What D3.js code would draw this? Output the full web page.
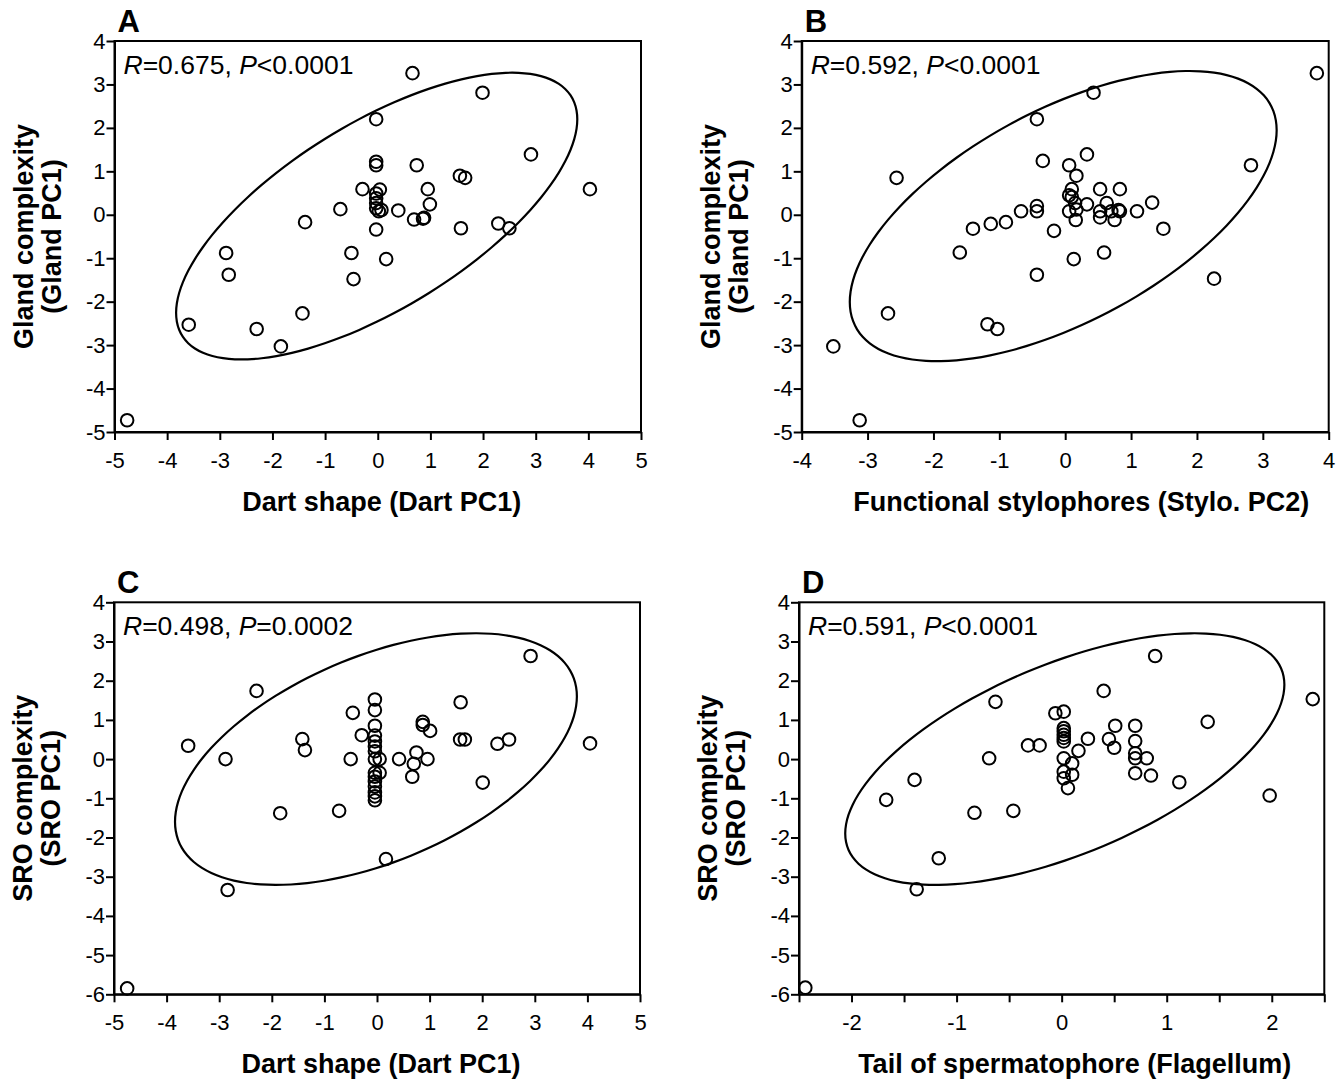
<!DOCTYPE html>
<html>
<head>
<meta charset="utf-8">
<script src="https://cdn.jsdelivr.net/npm/d3@7/dist/d3.min.js"></script>
<style>
body{margin:0;background:#fff;}
svg text{font-family:"Liberation Sans", Arial, sans-serif;fill:#000;}
.axis .domain, .axis .tick line{stroke:#000;stroke-width:2;}
.axis text{font-size:22px;}
.frame{fill:none;stroke:#000;stroke-width:2;}
.ell{fill:none;stroke:#000;stroke-width:2.2;}
.pt{fill:none;stroke:#000;stroke-width:2;}
</style>
</head>
<body>
<div id="fig"></div>
<script>

//A: dart PC1 vs gland PC1
var aX = [-4.76,-3.59,-2.88,-2.83,-2.30,-1.84,-1.43,-1.38,-0.71,-0.50,-0.46,-0.29,-0.03,-0.03,-0.03,0.04,-0.03,-0.03,-0.03,-0.03,0.02,0.07,-0.03,0.39,0.16,0.66,1.99,0.74,2.91,1.56,1.66,4.03,0.95,0.99,0.69,0.86,0.88,1.58,2.29,2.50];
var aY = [-4.73,-2.53,-0.88,-1.38,-2.63,-3.03,-2.27,-0.17,0.13,-0.88,-1.48,0.59,2.20,1.22,1.14,0.58,0.49,0.38,0.27,0.15,0.08,0.11,-0.34,0.10,-1.02,3.26,2.81,1.14,1.39,0.90,0.85,0.59,0.59,0.24,-0.11,-0.09,-0.07,-0.31,-0.20,-0.31];

//B: stylo PC2 vs gland PC1
var bX = [-3.52,-3.12,-2.56,-2.69,-1.60,-1.40,-1.13,-0.90,-1.18,-1.03,-0.67,-0.43,-0.34,-0.43,-0.43,-0.17,-0.43,3.82,0.43,0.33,0.06,0.17,2.82,0.10,0.06,0.10,0.15,0.06,0.17,0.33,0.53,0.83,0.63,0.53,0.53,0.70,0.81,0.83,0.75,0.16,1.09,1.32,1.49,0.13,0.59,2.26];
var bY = [-3.03,-4.73,0.85,-2.27,-0.87,-0.32,-0.21,-0.17,-2.52,-2.63,0.08,2.20,1.24,0.20,0.08,-0.37,-1.38,3.26,2.81,1.39,1.14,0.90,1.14,0.59,0.45,0.41,0.27,0.08,0.12,0.24,0.59,0.59,0.27,0.08,-0.06,0.08,0.11,0.08,-0.12,-0.12,0.08,0.28,-0.32,-1.02,-0.87,-1.47];

//C: dart PC1 vs SRO PC1
var cX = [-4.75,-3.59,-2.88,-2.29,-2.84,-1.84,-1.42,-1.37,-0.72,-0.46,-0.50,-0.29,-0.04,-0.04,-0.04,-0.04,-0.04,-0.04,-0.04,-0.04,-0.04,-0.04,-0.04,-0.04,-0.04,-0.04,-0.04,0.05,0.05,2.92,1.59,4.05,0.87,0.87,1.01,1.58,1.67,2.29,2.51,0.42,0.75,0.70,0.96,0.67,2.01,0.17];
var cY = [-5.85,0.34,0.00,1.74,-3.34,-1.38,0.51,0.23,-1.32,1.18,0.00,0.61,1.52,1.25,0.85,0.60,0.45,0.32,0.20,0.00,-0.35,-0.45,-0.57,-0.70,-0.85,-0.95,-1.05,0.00,-0.35,2.63,1.45,0.40,0.95,0.87,0.72,0.50,0.50,0.39,0.50,0.00,0.17,-0.12,0.00,-0.45,-0.60,-2.55];

//D: flagellum vs SRO PC1
var dX = [-2.44,-1.67,-1.40,-1.17,-1.38,-0.83,-0.46,-0.69,-0.63,-0.32,-0.21,-0.06,0.02,0.02,0.02,0.02,0.02,0.02,0.02,0.10,0.16,0.25,0.02,0.02,0.10,0.06,2.39,0.89,0.40,1.39,1.98,1.12,0.45,0.50,0.51,0.70,0.70,0.70,0.70,0.70,0.81,0.85];
var dY = [-5.83,-1.04,-0.53,-2.53,-3.32,-1.37,-1.32,0.02,1.46,0.35,0.35,1.17,1.21,0.79,0.71,0.62,0.54,0.45,0.02,-0.11,0.21,0.52,-0.32,-0.49,-0.40,-0.74,1.53,2.63,1.74,0.95,-0.93,-0.59,0.51,0.29,0.85,0.85,0.46,0.15,0.02,-0.36,0.02,-0.42];

// ellipses: centre x, centre y, spread x, spread y, R
var ellA = [-0.02, -0.03, 3.81, 3.30, 0.675];
var ellB = [-0.03, -0.03, 3.24, 3.34, 0.592];
var ellC = [-0.02, 0.00, 3.82, 3.21, 0.498];
var ellD = [0.03, 0.00, 2.09, 3.21, 0.591];

var statA = ['0.675', '<0.0001'],
    statB = ['0.592', '<0.0001'],
    statC = ['0.498', '=0.0002'],
    statD = ['0.591', '<0.0001'];

var xTitles = ['Dart shape (Dart PC1)', 'Functional stylophores (Stylo. PC2)', 'Dart shape (Dart PC1)', 'Tail of spermatophore (Flagellum)'];
var yTitleGland = ['Gland complexity', '(Gland PC1)'],
    yTitleSRO = ['SRO complexity', '(SRO PC1)'];

var ticksDart = [-5,-4,-3,-2,-1,0,1,2,3,4,5];
var ticksStylo = [-4,-3,-2,-1,0,1,2,3,4];
var ticksFlag = [-2.5,-2,-1.5,-1,-0.5,0,0.5,1,1.5,2,2.5];
var ticksGland = [-5,-4,-3,-2,-1,0,1,2,3,4];
var ticksSRO = [-6,-5,-4,-3,-2,-1,0,1,2,3,4];

var W = 1343, H = 1081;
var svg = d3.select('#fig').append('svg')
    .attr('width', W)
    .attr('height', H);

var panels = [
    {lab:'A', box:{l:114.5, r:641, t:41, b:432}, xs:aX, ys:aY, xt:ticksDart, yt:ticksGland, el:ellA, stat:statA, xlab:xTitles[0], ylab:yTitleGland, off:4},
    {lab:'B', box:{l:801.7, r:1328.7, t:41, b:432}, xs:bX, ys:bY, xt:ticksStylo, yt:ticksGland, el:ellB, stat:statB, xlab:xTitles[1], ylab:yTitleGland, off:16},
    {lab:'C', box:{l:114, r:640, t:602.3, b:994.3}, xs:cX, ys:cY, xt:ticksDart, yt:ticksSRO, el:ellC, stat:statC, xlab:xTitles[2], ylab:yTitleSRO, off:4},
    {lab:'D', box:{l:799, r:1324.3, t:602.3, b:994.3}, xs:dX, ys:dY, xt:ticksFlag, yt:ticksSRO, el:ellD, stat:statD, xlab:xTitles[3], ylab:yTitleSRO, off:13}
];

panels.forEach(drawPanel);

function drawPanel(p){
    var x = d3.scaleLinear().domain(d3.extent(p.xt)).range([p.box.l, p.box.r]);
    var y = d3.scaleLinear().domain(d3.extent(p.yt)).range([p.box.b, p.box.t]);
    var g = svg.append('g');

    g.append('rect').attr('class', 'frame')
        .attr('x', p.box.l).attr('y', p.box.t)
        .attr('width', p.box.r - p.box.l).attr('height', p.box.b - p.box.t);

    //confidence ellipse, same R as the stats
    var e = p.el;
    var k = Math.sqrt(1 - e[4]*e[4]);
    var angles = d3.range(0, 72).map(function(i){ return i / 72 * 2 * Math.PI; });
    var ellLine = d3.line()
        .x(function(t){ return x(e[0] + e[2]*Math.cos(t)); })
        .y(function(t){ return y(e[1] + e[3]*(e[4]*Math.cos(t) + k*Math.sin(t))); })
        .curve(d3.curveCardinalClosed);
    g.append('path').attr('class', 'ell').attr('d', ellLine(angles));

    g.selectAll('circle.pt')
        .data(d3.zip(p.xs, p.ys))
        .join('circle')
        .attr('class', 'pt')
        .attr('cx', function(d){ return x(d[0]); })
        .attr('cy', function(d){ return y(d[1]); })
        .attr('r', 6.3);

    //axes
    g.append('g').attr('class', 'axis')
        .attr('transform', 'translate(0,' + p.box.b + ')')
        .call(d3.axisBottom(x).tickValues(p.xt).tickSize(8).tickSizeOuter(0).tickPadding(12)
            .tickFormat(function(d){ return Number.isInteger(d) ? String(d) : ''; }));
    g.append('g').attr('class', 'axis')
        .attr('transform', 'translate(' + p.box.l + ',0)')
        .call(d3.axisLeft(y).tickValues(p.yt).tickSize(8).tickSizeOuter(0).tickPadding(1)
            .tickFormat(function(d){ return String(d); }));

    //panel letter
    g.append('text')
        .attr('x', p.box.l + 3).attr('y', p.box.t - 9)
        .style('font-weight', 'bold').style('font-size', '31px')
        .text(p.lab);

    //R and P
    var st = g.append('text')
        .attr('x', p.box.l + 9).attr('y', p.box.t + 33)
        .style('font-size', '26.5px');
    st.append('tspan').style('font-style', 'italic').text('R');
    st.append('tspan').text('=' + p.stat[0] + ', ');
    st.append('tspan').style('font-style', 'italic').text('P');
    st.append('tspan').text(p.stat[1]);

    //axis titles
    g.append('text')
        .attr('x', (p.box.l + p.box.r)/2 + p.off).attr('y', p.box.b + 79)
        .attr('text-anchor', 'middle')
        .style('font-weight', 'bold').style('font-size', '27px')
        .text(p.xlab);

    var yt = g.append('text')
        .attr('transform', 'translate(' + (p.box.l - 82) + ',' + ((p.box.t + p.box.b)/2) + ') rotate(-90)')
        .attr('text-anchor', 'middle')
        .style('font-weight', 'bold').style('font-size', '27px');
    yt.append('tspan').attr('x', 0).attr('y', 0).text(p.ylab[0]);
    yt.append('tspan').attr('x', 0).attr('y', 28).text(p.ylab[1]);
}

</script>
</body>
</html>
